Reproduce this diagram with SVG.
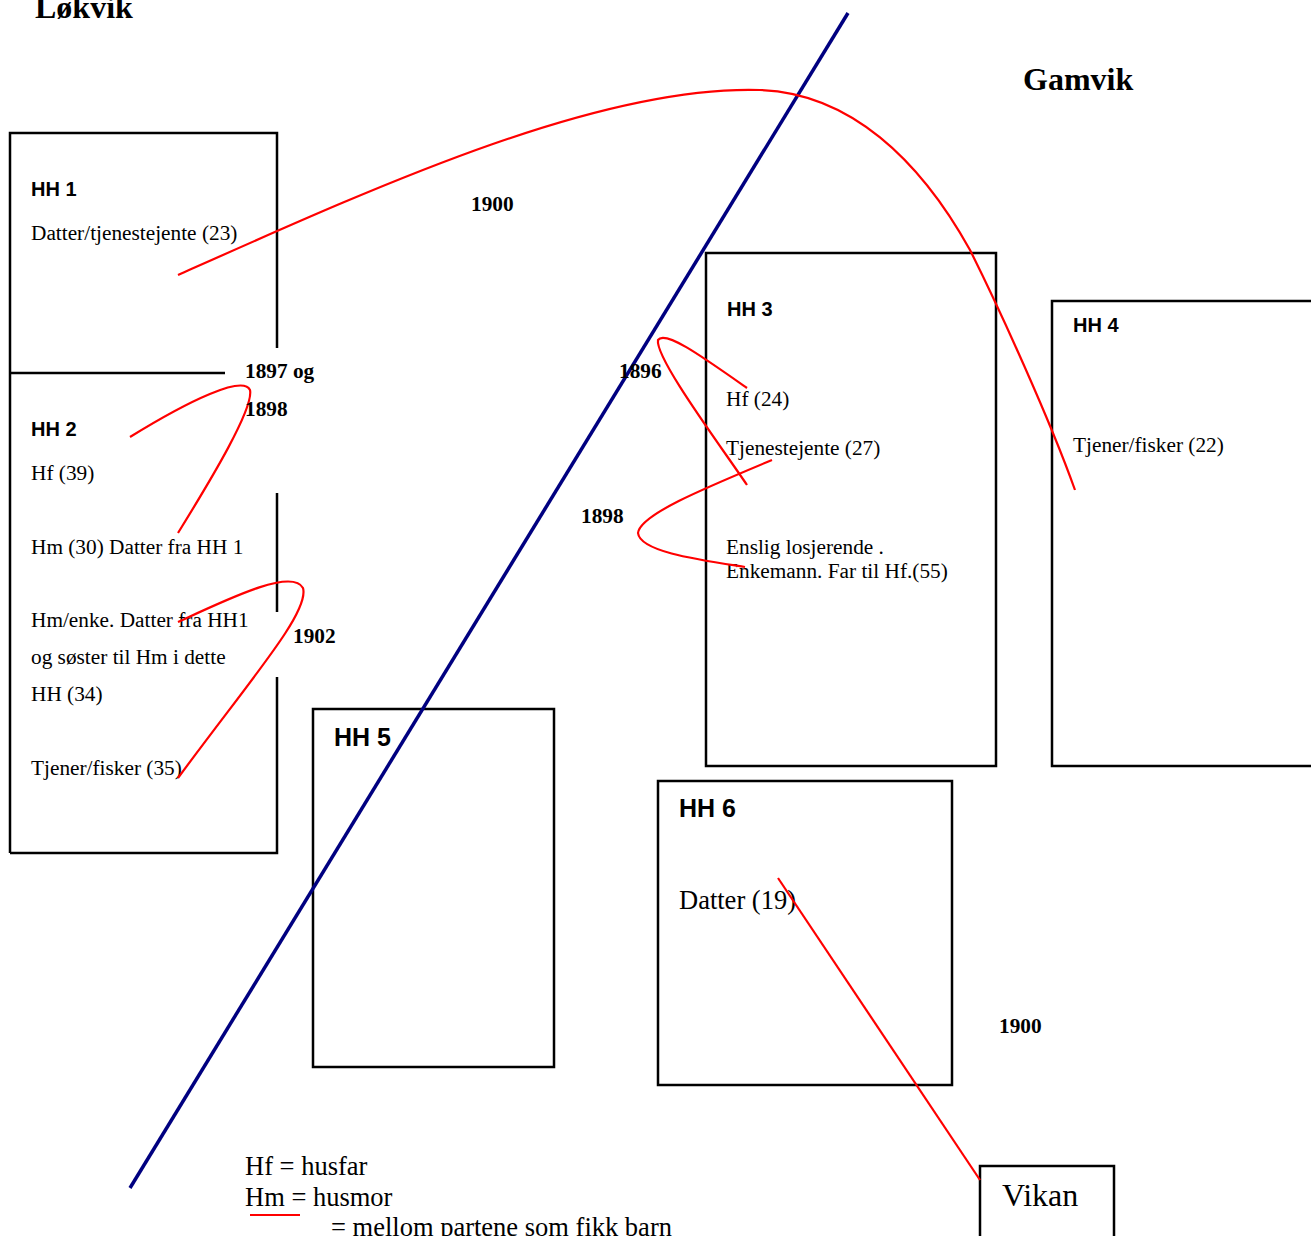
<svg xmlns="http://www.w3.org/2000/svg" width="1311" height="1236" viewBox="0 0 1311 1236">
<style>
.box{fill:none;stroke:#000;stroke-width:2.5}
.edge{fill:none;stroke:#000;stroke-width:2.5}
.red{fill:none;stroke:#ff0000;stroke-width:2.2}
.blue{fill:none;stroke:#000080;stroke-width:3.5}
.hh{font-family:"Liberation Sans",Arial,sans-serif;font-weight:bold;font-size:20px;fill:#000}
.hhl{font-family:"Liberation Sans",Arial,sans-serif;font-weight:bold;font-size:25px;fill:#000}
.t{font-family:"Liberation Serif","Times New Roman",serif;font-size:21.3px;fill:#000}
.tl{font-family:"Liberation Serif","Times New Roman",serif;font-size:26.5px;fill:#000}
.yr{font-family:"Liberation Serif","Times New Roman",serif;font-weight:bold;font-size:21.3px;fill:#000}
.place{font-family:"Liberation Serif","Times New Roman",serif;font-weight:bold;font-size:32px;fill:#000}
</style>
<rect width="1311" height="1236" fill="#fff"/>
<text class="place" x="35" y="18">Løkvik</text>
<text class="place" x="1023" y="90">Gamvik</text>
<g id="hh1">
<path class="edge" d="M10,853 V133 H277 V348"/>
<text class="hh" x="31" y="196">HH 1</text>
<text class="t" x="31" y="240">Datter/tjenestejente (23)</text>
</g>
<g id="hh2">
<path class="edge" d="M10,373 H225 M277,493 V612 M277,677 V853 H10"/>
<text class="hh" x="31" y="436">HH 2</text>
<text class="t" x="31" y="480">Hf (39)</text>
<text class="t" x="31" y="554">Hm (30) Datter fra HH 1</text>
<text class="t" x="31" y="627">Hm/enke. Datter fra HH1</text>
<text class="t" x="31" y="664">og søster til Hm i dette</text>
<text class="t" x="31" y="701">HH (34)</text>
<text class="t" x="31" y="775">Tjener/fisker (35)</text>
</g>
<g id="hh3">
<rect class="box" x="706" y="253" width="290" height="513"/>
<text class="hh" x="727" y="316">HH 3</text>
<text class="t" x="726" y="406">Hf (24)</text>
<text class="t" x="726" y="455">Tjenestejente (27)</text>
<text class="t" x="726" y="554">Enslig losjerende .</text>
<text class="t" x="726" y="578">Enkemann. Far til Hf.(55)</text>
</g>
<g id="hh4">
<rect class="box" x="1052" y="301" width="300" height="465"/>
<text class="hh" x="1073" y="332">HH 4</text>
<text class="t" x="1073" y="452">Tjener/fisker (22)</text>
</g>
<g id="hh5">
<rect class="box" x="313" y="709" width="241" height="358"/>
<text class="hhl" x="334" y="746">HH 5</text>
</g>
<g id="hh6">
<rect class="box" x="658" y="781" width="294" height="304"/>
<text class="hhl" x="679" y="817">HH 6</text>
<text class="tl" x="679" y="909">Datter (19)</text>
</g>
<g id="vikan">
<rect class="box" x="980" y="1166" width="134" height="100"/>
<text class="place" style="font-weight:normal" x="1002" y="1206">Vikan</text>
</g>
<g id="connectors">
<path class="blue" d="M848,13 L130,1188"/>
<path class="red" d="M178,275 C380,185 600,85 760,90 C850,93 920,160 970,250 C1000,310 1050,420 1075,490"/>
<path class="red" d="M130,437 C190,400 243,375 250,390 C254,408 212,478 178,533"/>
<path class="red" d="M178,622 C230,598 292,568 303,588 C310,612 250,680 178,778"/>
<path class="red" d="M747,388 C700,355 665,330 658,340 C655,358 720,445 747,485"/>
<path class="red" d="M772,460 C700,490 640,515 638,533 C640,552 700,560 745,567"/>
<path class="red" d="M778,878 L980,1180"/>
</g>
<g id="labels">
<text class="yr" x="471" y="211">1900</text>
<text class="yr" x="245" y="378">1897 og</text>
<text class="yr" x="245" y="416">1898</text>
<text class="yr" x="293" y="643">1902</text>
<text class="yr" x="619" y="378">1896</text>
<text class="yr" x="581" y="523">1898</text>
<text class="yr" x="999" y="1033">1900</text>
</g>
<g id="legend">
<text class="tl" x="245" y="1175">Hf = husfar</text>
<text class="tl" x="245" y="1206">Hm = husmor</text>
<path class="red" stroke-width="2.5" d="M250,1215 H300"/>
<text class="tl" x="331" y="1236">= mellom partene som fikk barn</text>
</g>
</svg>
